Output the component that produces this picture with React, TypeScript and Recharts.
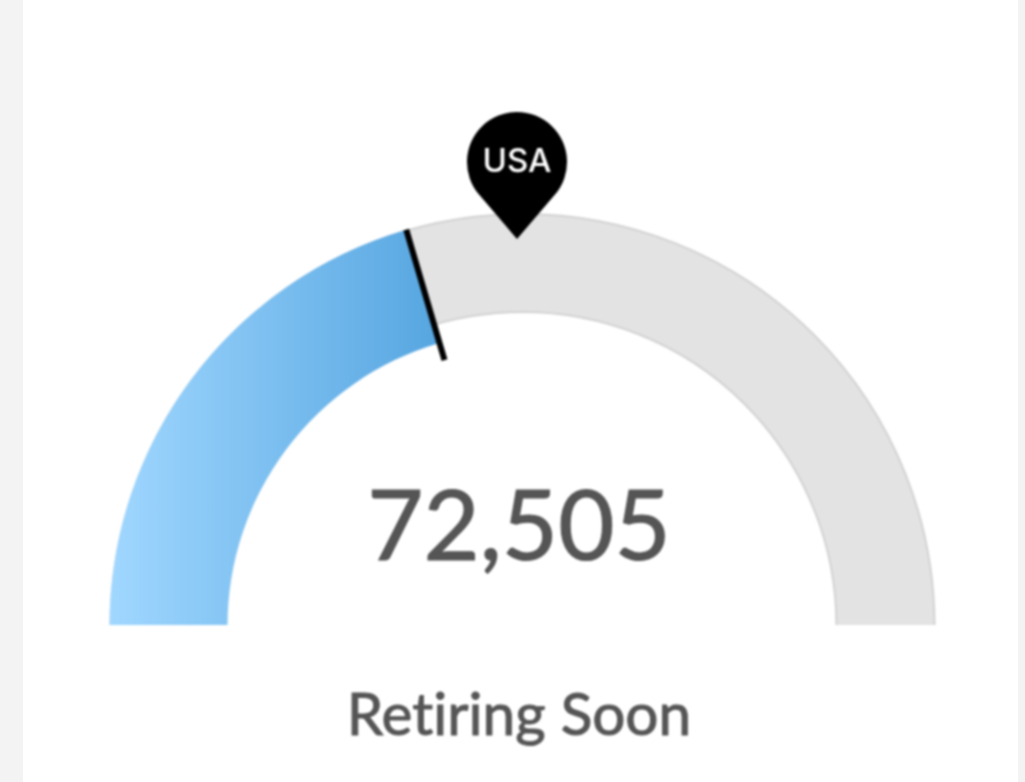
import { PieChart, Pie, Cell } from "recharts";

const title = "Retiring Soon";
const retiring = 72505;
const gaugeMax = 177200;
const pinLabel = "USA";
const pinValue = 87800;

const RADIAN = Math.PI / 180;
const CX = 522.5;
const CY = 626;

const pair = (v: number) => [
  { name: "value", value: v },
  { name: "rest", value: gaugeMax - v },
];

// needle sits at the end of the first slice of its hidden pie
function renderNeedle(props: any) {
  if (props.index !== 0) return null;
  const { cx, cy, endAngle } = props;
  const a = -endAngle * RADIAN;
  return (
    <line
      x1={cx + 413 * Math.cos(a)}
      y1={cy + 413 * Math.sin(a)}
      x2={cx + 277 * Math.cos(a)}
      y2={cy + 277 * Math.sin(a)}
      stroke="#000"
      strokeWidth={6}
    />
  );
}

function renderPin(props: any) {
  if (props.index !== 0) return null;
  const { cx, cy, endAngle } = props;
  const a = -endAngle * RADIAN;
  const x = cx + 387 * Math.cos(a);
  const y = cy + 387 * Math.sin(a);
  return (
    <g>
      <path d={`M${x} ${y} L${x - 38} ${y - 44.5} A50 50 0 1 1 ${x + 38} ${y - 44.5} Z`} fill="#000" />
      <text
        x={x}
        y={y - 67}
        textAnchor="middle"
        fontFamily="Inter, sans-serif"
        fontWeight={500}
        fontSize={33}
        fill="#fff"
      >
        {pinLabel}
      </text>
    </g>
  );
}

export default function App() {
  return (
    <div style={{ position: "absolute", left: 0, top: 0, width: 1025, height: 782, background: "#f3f3f3", overflow: "hidden" }}>
      <svg width={1025} height={782} style={{ position: "absolute", left: 0, top: 0 }}>
        <filter id="paper">
          <feTurbulence type="fractalNoise" baseFrequency="0.05" numOctaves={2} seed={4} />
          <feColorMatrix
            type="matrix"
            values="0 0 0 0 0.9  0 0 0 0 0.9  0 0 0 0 0.9  0.9 0 0 0 -0.25"
          />
        </filter>
        <rect width={1025} height={782} filter="url(#paper)" />
      </svg>
      <div style={{ position: "absolute", left: 23, top: 0, width: 995, height: 782, background: "#fff" }} />
      <div style={{ position: "absolute", left: 0, top: 0, filter: "blur(0.8px)" }}>
        <PieChart width={1025} height={625} margin={{ top: 0, right: 0, bottom: 0, left: 0 }}>
          <defs>
            <linearGradient id="blueFill" gradientUnits="userSpaceOnUse" x1={110} y1={0} x2={445} y2={0}>
              <stop offset="0%" stopColor="#a0d7ff" />
              <stop offset="100%" stopColor="#55a5e0" />
            </linearGradient>
          </defs>
          <Pie
            data={[{ name: "track", value: gaugeMax }]}
            dataKey="value"
            cx={CX}
            cy={CY}
            startAngle={180}
            endAngle={0}
            innerRadius={314}
            outerRadius={412}
            fill="#e3e3e3"
            stroke="#d2d2d2"
            strokeWidth={2}
            isAnimationActive={false}
          />
          <Pie
            data={pair(retiring)}
            dataKey="value"
            cx={CX}
            cy={CY}
            startAngle={180}
            endAngle={0}
            innerRadius={295}
            outerRadius={413}
            stroke="none"
            isAnimationActive={false}
          >
            <Cell fill="url(#blueFill)" />
            <Cell fill="none" />
          </Pie>
          <Pie
            data={pair(retiring)}
            dataKey="value"
            cx={CX}
            cy={CY}
            startAngle={180}
            endAngle={0}
            innerRadius={295}
            outerRadius={413}
            fill="none"
            stroke="none"
            label={renderNeedle}
            labelLine={false}
            isAnimationActive={false}
          />
          <Pie
            data={pair(pinValue)}
            dataKey="value"
            cx={CX}
            cy={CY}
            startAngle={180}
            endAngle={0}
            innerRadius={295}
            outerRadius={413}
            fill="none"
            stroke="none"
            label={renderPin}
            labelLine={false}
            isAnimationActive={false}
          />
          <text
            x={519}
            y={560}
            textAnchor="middle"
            fontFamily="Lato, sans-serif"
            fontSize={97}
            fill="#555"
            stroke="#555"
            strokeWidth={1.2}
          >
            {retiring.toLocaleString("en-US")}
          </text>
        </PieChart>
        <div
          style={{
            position: "absolute",
            left: 0,
            top: 676,
            width: 1038,
            textAlign: "center",
            fontFamily: "Lato, sans-serif",
            fontSize: 58.5,
            fontVariantLigatures: "none",
            lineHeight: "72px",
            color: "#555",
            WebkitTextStroke: "1px #555",
          }}
        >
          {title}
        </div>
      </div>
    </div>
  );
}
